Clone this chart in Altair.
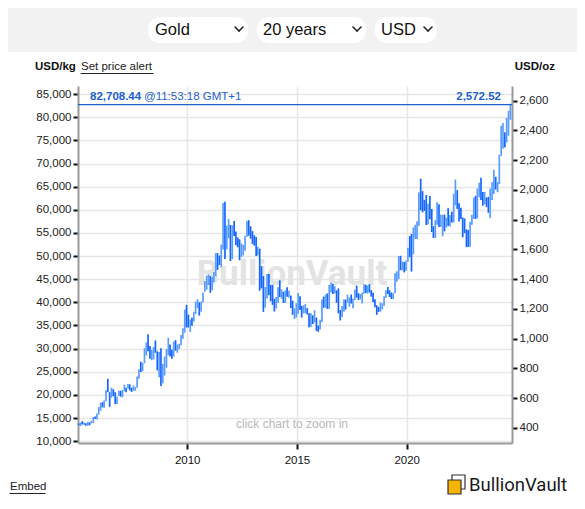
import altair as alt
import pandas as pd

# ---------------- data (USD/oz, monthly) ----------------
low = [
    418, 412, 423, 420, 414, 414, 418, 430, 433, 460, 456, 490,
    515, 538, 535, 580, 640, 542, 603, 613, 560, 560, 615, 610,
    606, 647, 640, 665, 652, 642, 650, 650, 670, 730, 776, 782,
    835, 887, 915, 865, 855, 860, 905, 786, 740, 681, 700, 752,
    805, 890, 880, 865, 880, 920, 905, 930, 955, 1000, 1040, 1075,
    1075, 1045, 1087, 1115, 1165, 1205, 1155, 1180, 1243, 1315, 1330, 1360,
    1308, 1325, 1380, 1420, 1462, 1495, 1480, 1600, 1535, 1600, 1675, 1522,
    1535, 1690, 1627, 1614, 1527, 1550, 1560, 1590, 1685, 1692, 1672, 1635,
    1625, 1555, 1560, 1322, 1338, 1180, 1208, 1270, 1292, 1251, 1227, 1182,
    1202, 1240, 1280, 1268, 1240, 1240, 1282, 1275, 1205, 1160, 1132, 1142,
    1167, 1192, 1142, 1170, 1170, 1162, 1077, 1080, 1098, 1108, 1052, 1046,
    1062, 1110, 1208, 1208, 1200, 1200, 1310, 1300, 1305, 1241, 1170, 1122,
    1145, 1180, 1195, 1240, 1214, 1236, 1205, 1260, 1275, 1260, 1264, 1237,
    1302, 1307, 1303, 1310, 1282, 1245, 1211, 1160, 1180, 1182, 1196, 1221,
    1275, 1300, 1280, 1266, 1266, 1306, 1382, 1400, 1460, 1459, 1445, 1456,
    1517, 1548, 1451, 1567, 1670, 1670, 1758, 1863, 1849, 1859, 1764, 1767,
    1802, 1717, 1677, 1677, 1766, 1750, 1751, 1688, 1721, 1746, 1758, 1753,
    1780, 1782, 1895, 1872, 1787, 1805, 1681, 1710, 1615, 1617, 1617, 1765,
    1804, 1805, 1809, 1950, 1932, 1893, 1902, 1884, 1846, 1810, 1932, 1973,
    2002, 1984, 2039, 2228, 2277, 2286, 2318, 2364, 2471,
]
high = [
    430, 437, 445, 437, 432, 441, 438, 448, 473, 477, 497, 540,
    570, 573, 585, 654, 730, 640, 670, 660, 640, 610, 650, 650,
    655, 690, 670, 695, 693, 670, 685, 675, 745, 795, 845, 838,
    935, 975, 1030, 950, 925, 945, 988, 915, 910, 935, 830, 880,
    930, 1006, 960, 925, 980, 990, 960, 965, 1025, 1070, 1195, 1227,
    1162, 1128, 1140, 1180, 1249, 1265, 1245, 1250, 1310, 1387, 1424, 1432,
    1423, 1415, 1448, 1575, 1575, 1558, 1632, 1912, 1920, 1760, 1805, 1764,
    1762, 1790, 1720, 1680, 1668, 1640, 1630, 1692, 1790, 1796, 1755, 1723,
    1695, 1683, 1617, 1605, 1487, 1420, 1348, 1434, 1434, 1362, 1362, 1268,
    1280, 1345, 1392, 1331, 1315, 1325, 1345, 1322, 1290, 1255, 1205, 1238,
    1307, 1285, 1220, 1224, 1232, 1205, 1170, 1170, 1157, 1191, 1142, 1088,
    1127, 1263, 1283, 1297, 1304, 1362, 1375, 1367, 1352, 1325, 1338, 1192,
    1220, 1264, 1262, 1295, 1276, 1296, 1270, 1330, 1357, 1306, 1300, 1310,
    1366, 1362, 1356, 1366, 1326, 1308, 1265, 1224, 1214, 1243, 1237, 1285,
    1326, 1347, 1325, 1310, 1306, 1439, 1453, 1555, 1557, 1519, 1515, 1525,
    1611, 1689, 1704, 1747, 1765, 1789, 1983, 2075, 1992, 1933, 1965, 1906,
    1959, 1872, 1755, 1797, 1916, 1903, 1834, 1832, 1834, 1813, 1877, 1831,
    1853, 1974, 2070, 1998, 1910, 1880, 1814, 1808, 1735, 1730, 1786, 1833,
    1949, 1960, 2009, 2048, 2082, 1985, 1987, 1949, 1953, 2009, 2052, 2135,
    2088, 2053, 2236, 2431, 2450, 2387, 2483, 2531, 2580,
]
close = [
    422, 435, 428, 436, 417, 435, 429, 433, 473, 470, 496, 513,
    569, 556, 582, 655, 643, 613, 633, 626, 598, 604, 648, 632,
    650, 669, 663, 683, 659, 650, 665, 672, 743, 789, 783, 836,
    923, 972, 933, 871, 885, 925, 918, 833, 880, 718, 815, 869,
    927, 942, 916, 884, 979, 927, 954, 955, 1001, 1040, 1182, 1096,
    1081, 1118, 1113, 1180, 1213, 1245, 1181, 1248, 1307, 1357, 1386, 1421,
    1333, 1410, 1439, 1556, 1536, 1500, 1628, 1826, 1620, 1722, 1746, 1566,
    1740, 1711, 1668, 1664, 1561, 1598, 1622, 1687, 1772, 1719, 1713, 1675,
    1663, 1578, 1598, 1472, 1393, 1234, 1313, 1396, 1326, 1323, 1250, 1202,
    1240, 1326, 1284, 1290, 1250, 1322, 1283, 1287, 1210, 1172, 1182, 1199,
    1283, 1212, 1183, 1183, 1190, 1172, 1095, 1133, 1115, 1142, 1064, 1061,
    1118, 1238, 1234, 1292, 1215, 1321, 1350, 1308, 1315, 1272, 1173, 1152,
    1210, 1250, 1248, 1268, 1268, 1242, 1269, 1322, 1280, 1270, 1275, 1303,
    1343, 1318, 1325, 1315, 1299, 1250, 1224, 1202, 1190, 1215, 1222, 1282,
    1321, 1313, 1292, 1284, 1305, 1409, 1414, 1520, 1472, 1512, 1463, 1517,
    1589, 1585, 1577, 1687, 1730, 1781, 1975, 1968, 1886, 1879, 1776, 1895,
    1847, 1734, 1708, 1769, 1906, 1770, 1814, 1814, 1757, 1783, 1775, 1829,
    1797, 1908, 1937, 1897, 1838, 1807, 1766, 1711, 1660, 1634, 1769, 1824,
    1928, 1827, 1969, 1990, 1963, 1919, 1965, 1940, 1849, 1983, 2036, 2063,
    2039, 2044, 2230, 2286, 2327, 2326, 2447, 2503, 2572,
]
first_open = 438
kg_ticks = [10000, 15000, 20000, 25000, 30000, 35000, 40000, 45000,
            50000, 55000, 60000, 65000, 70000, 75000, 80000, 85000]
oz_ticks = [400, 600, 800, 1000, 1200, 1400, 1600, 1800, 2000, 2200, 2400, 2600]
year_ticks = [2010, 2015, 2020]
last_kg = "82,708.44"
last_time = "@11:53:18 GMT+1"
last_oz_value = 2572.52
last_oz = "2,572.52"
KG_PER_OZ = 32.1507

dates = pd.date_range("2005-01-01", periods=len(close), freq="MS") + pd.Timedelta(days=20)
opens = [first_open] + close[:-1]
df = pd.DataFrame({
    "date": dates.strftime("%Y-%m-%d"),
    "low": low, "high": high, "close": close, "open": opens,
})
df["dir"] = ["up" if c >= o else "down" for c, o in zip(df["close"], df["open"])]

# ---------------- layout ----------------
W, H = 434, 357
OX, OY = 78, 86            # page position of plot origin
FONT = "Liberation Sans"
BLUE_TXT = "#1f5fd0"
one = pd.DataFrame({"a": [0]})

kg_dom = [9600, 86750]
oz_dom = [kg_dom[0] / KG_PER_OZ, kg_dom[1] / KG_PER_OZ]

x_enc = alt.X(
    "date:T",
    scale=alt.Scale(type="utc", domain=[alt.DateTime(year=2005, month=1, date=10, utc=True),
                                        alt.DateTime(year=2024, month=10, date=18, utc=True)]),
    axis=alt.Axis(
        title="", values=[alt.DateTime(year=y, month=1, date=1, utc=True) for y in year_ticks],
        format="%Y", grid=True, gridColor="#e6e6e6", gridWidth=1.5,
        domainColor="#9a9a9a", domainWidth=2, tickColor="#111", tickWidth=2, tickSize=6,
        labelFont=FONT, labelFontSize=11.5, labelColor="#111", labelPadding=5,
    ),
)


def txt(s, x, y, size=11.5, color="#222", weight="normal", align="left", font=FONT):
    return alt.Chart(one).mark_text(
        text=s, fontSize=size, color=color, fontWeight=weight, align=align,
        baseline="middle", font=font,
    ).encode(x=alt.value(x - OX), y=alt.value(y - OY))


def box(x1, y1, x2, y2, fill, radius=0, stroke=None, sw=0):
    kw = dict(fill=fill, cornerRadius=radius)
    if stroke:
        kw.update(stroke=stroke, strokeWidth=sw)
    return alt.Chart(one).mark_rect(**kw).encode(
        x=alt.value(x1 - OX), x2=alt.value(x2 - OX),
        y=alt.value(y1 - OY), y2=alt.value(y2 - OY))


def seg(x1, y1, x2, y2, color="#222", sw=1.0):
    return alt.Chart(one).mark_rule(color=color, strokeWidth=sw, strokeCap="round").encode(
        x=alt.value(x1 - OX), x2=alt.value(x2 - OX),
        y=alt.value(y1 - OY), y2=alt.value(y2 - OY))


def chevron(cx, cy):
    return [seg(cx - 4, cy - 2, cx, cy + 2, "#222", 1.6), seg(cx, cy + 2, cx + 4, cy - 2, "#222", 1.6)]


# left axis (USD/kg) layer – invisible rules, only carries the axis & grid
kg_layer = alt.Chart(pd.DataFrame({"kg": kg_ticks})).mark_rule(opacity=0).encode(
    y=alt.Y("kg:Q", scale=alt.Scale(domain=kg_dom, nice=False, zero=False),
            axis=alt.Axis(orient="left", title="", values=kg_ticks, format=",d",
                          grid=True, gridColor="#e6e6e6", gridWidth=1.5,
                          domainColor="#9a9a9a", domainWidth=2,
                          tickColor="#111", tickWidth=2, tickSize=5,
                          labelFont=FONT, labelFontSize=11.5, labelColor="#222", labelPadding=2))
)

oz_scale = alt.Scale(domain=oz_dom, nice=False, zero=False)
oz_axis = alt.Axis(orient="right", title="", values=oz_ticks, format=",d", grid=False,
                   domainColor="#9a9a9a", domainWidth=2, tickColor="#111", tickWidth=2, tickSize=5,
                   labelFont=FONT, labelFontSize=11.5, labelColor="#222", labelPadding=2)

bars = alt.Chart(df).mark_rule(strokeWidth=1.7).encode(
    x=x_enc,
    y=alt.Y("low:Q", scale=oz_scale, axis=oz_axis),
    y2="high:Q",
    color=alt.condition("datum.dir == 'up'", alt.value("#5a9cff"), alt.value("#1466ff")),
)
price_rule = alt.Chart(pd.DataFrame({"p": [last_oz_value]})).mark_rule(
    color="#1f5fd0", strokeWidth=1.3).encode(
    y=alt.Y("p:Q", scale=oz_scale, axis=oz_axis), x=alt.value(0), x2=alt.value(W))
oz_layer = alt.layer(bars, price_rule)

deco_back = [
    box(8, 8, 577, 52, "#f2f2f2"),
    box(148, 17, 248, 43, "white", 12),
    box(257, 17, 366, 43, "white", 12),
    box(375, 17, 437, 43, "white", 12),
    txt("Gold", 155, 30, 16.5, "#111"),
    txt("20 years", 263, 30, 16.5, "#111"),
    txt("USD", 381, 30, 16.5, "#111"),
    *chevron(239, 29), *chevron(357, 29), *chevron(428, 29),
    txt("USD/kg", 35, 67, 11.5, "#111", "bold"),
    txt("Set price alert", 81, 67, 11.5, "#222"),
    seg(81, 73.5, 153, 73.5, "#222", 1),
    txt("USD/oz", 555, 67, 11.5, "#111", "bold", "right"),
    txt("BullionVault", 292, 274, 35, "#e3e3e3", "bold", "center", "Roboto"),
    txt("click chart to zoom in", 292, 424, 12, "#b8b8b8", "normal", "center"),
]
deco_front = [
    txt(last_kg, 90, 97, 11.5, BLUE_TXT, "bold"),
    txt(last_time, 144, 97, 11.5, BLUE_TXT),
    txt(last_oz, 501, 97, 11.5, BLUE_TXT, "bold", "right"),
    txt("Embed", 10, 487, 11.5, "#222"),
    seg(10, 493.5, 45, 493.5, "#222", 1),
    box(452, 475, 465, 489, "white", 0, "#333", 1.2),
    box(448, 480, 461, 494, "#f6b400", 0, "#333", 1.2),
    txt("BullionVault", 469, 485, 18.5, "#1a1a1a", "normal", "left", "Roboto"),
]

chart = alt.layer(kg_layer, *deco_back, oz_layer, *deco_front).resolve_scale(
    y="independent"
).properties(
    width=W, height=H,
    autosize=alt.AutoSizeParams(type="none"),
    padding={"left": OX - 8, "top": OY - 8, "right": 569 - (OX - 8) - W, "bottom": 489 - (OY - 8) - H},
    background="white",
).configure_view(strokeWidth=0)

chart.save("out.html", embed_options={"renderer": "svg", "actions": False})
